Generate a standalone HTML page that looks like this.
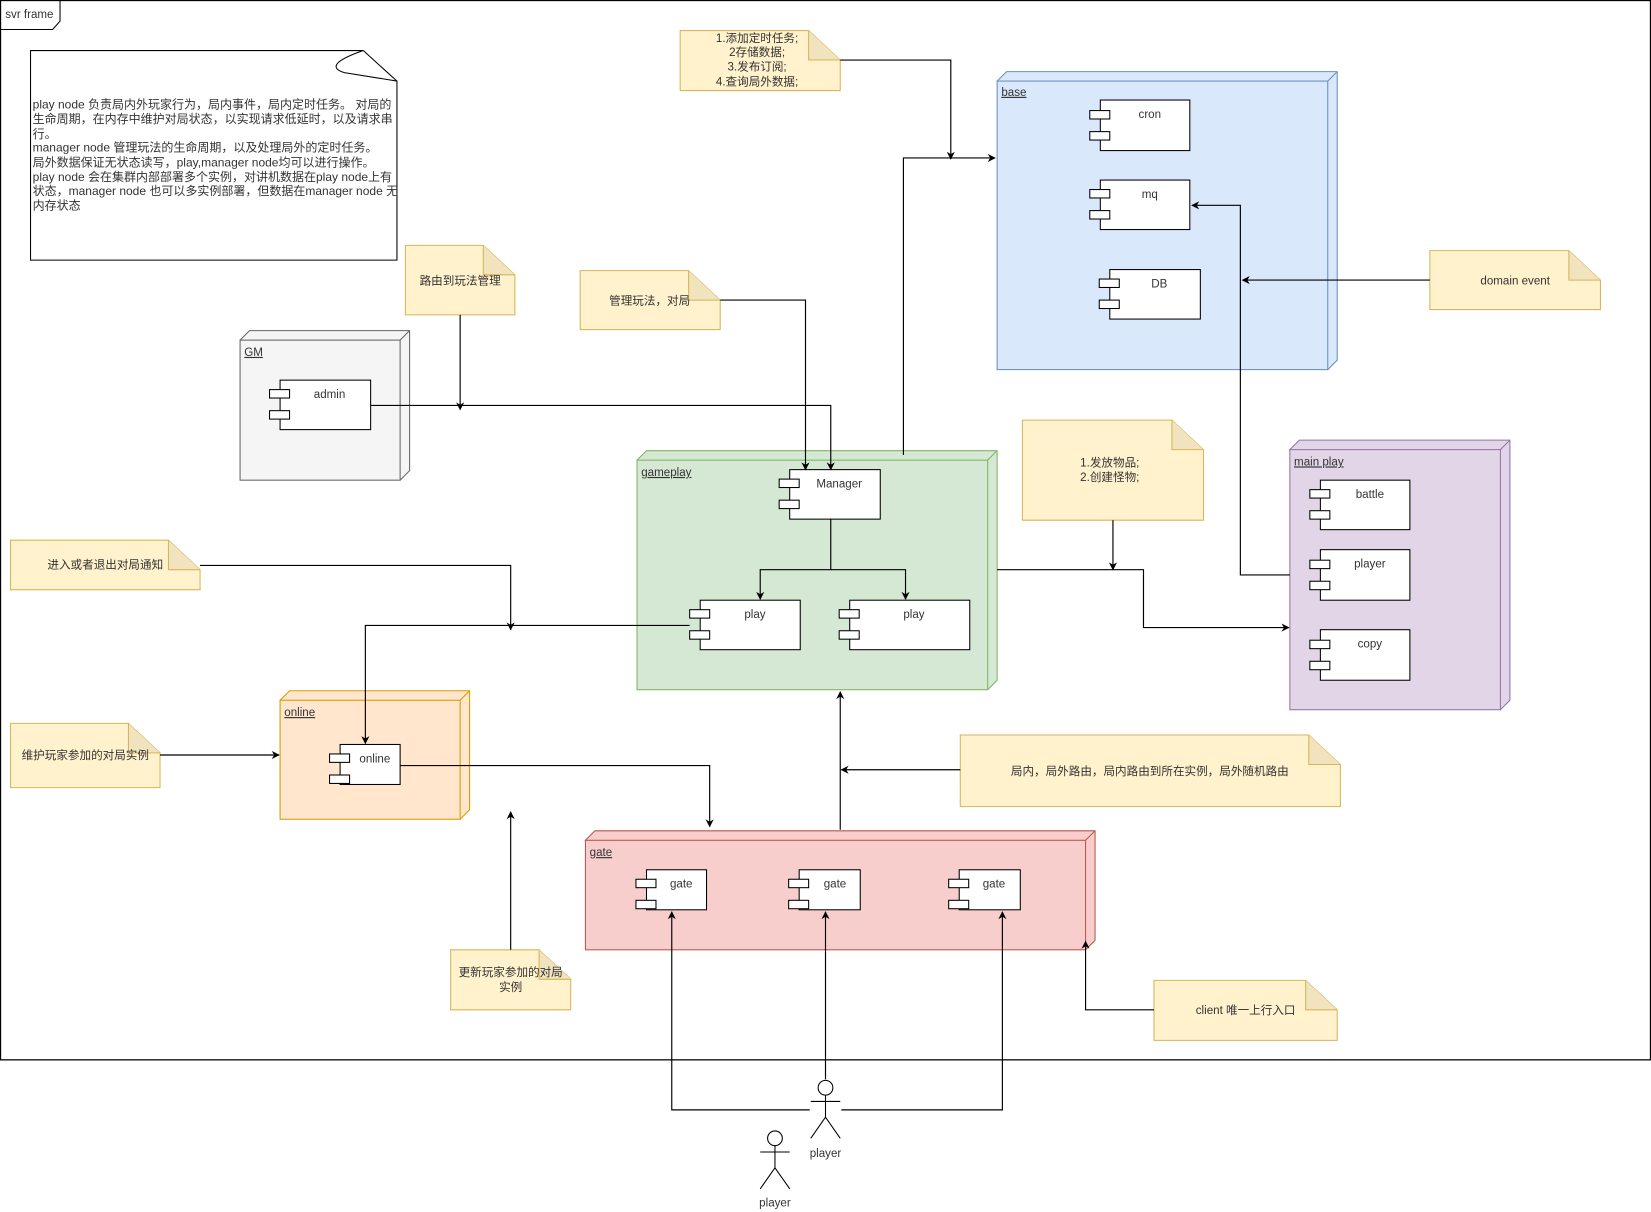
<!DOCTYPE html>
<html><head><meta charset="utf-8"><style>
html,body{margin:0;padding:0;background:#fff;}
svg{display:block;}
text{font-family:"Liberation Sans","Noto Sans CJK SC",sans-serif;font-size:11px;fill:#333;}
</style></head><body>
<svg width="1651" height="1212" viewBox="0 0 1568 1151" preserveAspectRatio="none" xmlns="http://www.w3.org/2000/svg">
<defs>
<marker id="a" viewBox="0 0 10 10" refX="9" refY="5" markerWidth="7" markerHeight="7" orient="auto"><path d="M0,0 L10,5 L0,10 L3,5 z" fill="#000"/></marker>
</defs>
<rect x="0.5" y="0.5" width="1567" height="1006" fill="#fff" stroke="#000" stroke-width="1.2"/>
<path d="M0.5,28 L50,28 L57,20 L57,0.5" fill="none" stroke="#000"/>
<text x="5" y="17">svr frame</text>

<path d="M29,48 L345,48 Q305,62 327,69 L377,77 L377,247 L29,247 Z" fill="#fff" stroke="#000"/>
<path d="M345,48 L377,77" stroke="#000"/>
<g>
<text x="31" y="103" style="font-size:11.4px">play node 负责局内外玩家行为，局内事件，局内定时任务。 对局的</text>
<text x="31" y="117" style="font-size:11.4px">生命周期，在内存中维护对局状态，以实现请求低延时，以及请求串</text>
<text x="31" y="131" style="font-size:11.4px">行。</text>
<text x="31" y="144" style="font-size:11.4px">manager node 管理玩法的生命周期，以及处理局外的定时任务。</text>
<text x="31" y="158" style="font-size:11.4px">局外数据保证无状态读写，play,manager node均可以进行操作。</text>
<text x="31" y="172" style="font-size:11.4px">play node 会在集群内部部署多个实例，对讲机数据在play node上有</text>
<text x="31" y="185" style="font-size:11.4px">状态，manager node 也可以多实例部署，但数据在manager node 无</text>
<text x="31" y="199" style="font-size:11.4px">内存状态</text>
</g>

<g>
<path d="M228,323 L237,314 L389,314 L389,447 L380,456 Z" fill="#f5f5f5" stroke="#666"/>
<rect x="228" y="323" width="152" height="133" fill="#f5f5f5" stroke="#666"/>
<path d="M380,323 L389,314" stroke="#666"/>
<text x="232" y="338" text-decoration="underline">GM</text>
<path d="M947,77 L956,68 L1270,68 L1270,342 L1261,351 Z" fill="#dae8fc" stroke="#6c8ebf"/>
<rect x="947" y="77" width="314" height="274" fill="#dae8fc" stroke="#6c8ebf"/>
<path d="M1261,77 L1270,68" stroke="#6c8ebf"/>
<text x="951" y="91" text-decoration="underline">base</text>
<path d="M605,437 L614,428 L947,428 L947,646 L938,655 Z" fill="#d5e8d4" stroke="#82b366"/>
<rect x="605" y="437" width="333" height="218" fill="#d5e8d4" stroke="#82b366"/>
<path d="M938,437 L947,428" stroke="#82b366"/>
<text x="609" y="452" text-decoration="underline">gameplay</text>
<path d="M1225,427 L1234,418 L1434,418 L1434,665 L1425,674 Z" fill="#e1d5e7" stroke="#9673a6"/>
<rect x="1225" y="427" width="200" height="247" fill="#e1d5e7" stroke="#9673a6"/>
<path d="M1425,427 L1434,418" stroke="#9673a6"/>
<text x="1229" y="442" text-decoration="underline">main play</text>
<path d="M266,665 L275,656 L446,656 L446,769 L437,778 Z" fill="#ffe6cc" stroke="#d79b00"/>
<rect x="266" y="665" width="171" height="113" fill="#ffe6cc" stroke="#d79b00"/>
<path d="M437,665 L446,656" stroke="#d79b00"/>
<text x="270" y="680" text-decoration="underline">online</text>
<path d="M556,798 L565,789 L1040,789 L1040,893 L1031,902 Z" fill="#f8cecc" stroke="#b85450"/>
<rect x="556" y="798" width="475" height="104" fill="#f8cecc" stroke="#b85450"/>
<path d="M1031,798 L1040,789" stroke="#b85450"/>
<text x="560" y="813" text-decoration="underline">gate</text>
</g>

<g fill="#fff" stroke="#000">
<rect x="266" y="361" width="86" height="47"/><rect x="256" y="370" width="19" height="8"/><rect x="256" y="390" width="19" height="8"/>
<rect x="1045" y="95" width="85" height="48"/><rect x="1035" y="105" width="19" height="8"/><rect x="1035" y="125" width="19" height="8"/>
<rect x="1045" y="171" width="85" height="47"/><rect x="1035" y="180" width="19" height="8"/><rect x="1035" y="200" width="19" height="8"/>
<rect x="1054" y="256" width="86" height="47"/><rect x="1044" y="265" width="19" height="8"/><rect x="1044" y="285" width="19" height="8"/>
<rect x="750" y="446" width="86" height="47"/><rect x="740" y="455" width="19" height="8"/><rect x="740" y="475" width="19" height="8"/>
<rect x="665" y="570" width="95" height="47"/><rect x="655" y="579" width="19" height="8"/><rect x="655" y="599" width="19" height="8"/>
<rect x="807" y="570" width="114" height="47"/><rect x="797" y="579" width="19" height="8"/><rect x="797" y="599" width="19" height="8"/>
<rect x="1254" y="456" width="85" height="47"/><rect x="1244" y="465" width="19" height="8"/><rect x="1244" y="485" width="19" height="8"/>
<rect x="1254" y="522" width="85" height="48"/><rect x="1244" y="532" width="19" height="8"/><rect x="1244" y="552" width="19" height="8"/>
<rect x="1254" y="598" width="85" height="48"/><rect x="1244" y="608" width="19" height="8"/><rect x="1244" y="628" width="19" height="8"/>
<rect x="323" y="707" width="57" height="38"/><rect x="313" y="716" width="19" height="8"/><rect x="313" y="736" width="19" height="8"/>
<rect x="614" y="826" width="57" height="38"/><rect x="604" y="835" width="19" height="8"/><rect x="604" y="855" width="19" height="8"/>
<rect x="759" y="826" width="58" height="38"/><rect x="749" y="835" width="19" height="8"/><rect x="749" y="855" width="19" height="8"/>
<rect x="911" y="826" width="58" height="38"/><rect x="901" y="835" width="19" height="8"/><rect x="901" y="855" width="19" height="8"/>
</g>
<g text-anchor="middle">
<text x="313" y="378">admin</text>
<text x="1092" y="112">cron</text>
<text x="1092" y="188">mq</text>
<text x="1101" y="273">DB</text>
<text x="797" y="463">Manager</text>
<text x="717" y="587">play</text>
<text x="868" y="587">play</text>
<text x="1301" y="473">battle</text>
<text x="1301" y="539">player</text>
<text x="1301" y="615">copy</text>
<text x="356" y="724">online</text>
<text x="647" y="843">gate</text>
<text x="793" y="843">gate</text>
<text x="944" y="843">gate</text>
</g>

<g fill="#fff2cc" stroke="#d6b656">
<path d="M646,29 L768,29 L798,57 L798,86 L646,86 Z"/><path d="M768,29 L768,57 L798,57" fill="#f0e3bd"/>
<path d="M385,233 L459,233 L489,261 L489,299 L385,299 Z"/><path d="M459,233 L459,261 L489,261" fill="#f0e3bd"/>
<path d="M551,257 L654,257 L684,285 L684,313 L551,313 Z"/><path d="M654,257 L654,285 L684,285" fill="#f0e3bd"/>
<path d="M1358,238 L1490,238 L1520,266 L1520,294 L1358,294 Z"/><path d="M1490,238 L1490,266 L1520,266" fill="#f0e3bd"/>
<path d="M971,399 L1113,399 L1143,427 L1143,494 L971,494 Z"/><path d="M1113,399 L1113,427 L1143,427" fill="#f0e3bd"/>
<path d="M10,513 L160,513 L190,541 L190,560 L10,560 Z"/><path d="M160,513 L160,541 L190,541" fill="#f0e3bd"/>
<path d="M10,687 L122,687 L152,715 L152,748 L10,748 Z"/><path d="M122,687 L122,715 L152,715" fill="#f0e3bd"/>
<path d="M912,698 L1243,698 L1273,726 L1273,766 L912,766 Z"/><path d="M1243,698 L1243,726 L1273,726" fill="#f0e3bd"/>
<path d="M428,902 L512,902 L542,930 L542,959 L428,959 Z"/><path d="M512,902 L512,930 L542,930" fill="#f0e3bd"/>
<path d="M1096,931 L1240,931 L1270,959 L1270,988 L1096,988 Z"/><path d="M1240,931 L1240,959 L1270,959" fill="#f0e3bd"/>
</g>
<g text-anchor="middle">
<text x="719" y="40">1.添加定时任务;</text>
<text x="719" y="53">2存储数据;</text>
<text x="719" y="67">3.发布订阅;</text>
<text x="719" y="81">4.查询局外数据;</text>
<text x="437" y="270">路由到玩法管理</text>
<text x="617" y="289">管理玩法，对局</text>
<text x="1439" y="270">domain event</text>
<text x="1054" y="443">1.发放物品;</text>
<text x="1054" y="457">2.创建怪物;</text>
<text x="100" y="540">进入或者退出对局通知</text>
<text x="81" y="721">维护玩家参加的对局实例</text>
<text x="1092" y="736">局内，局外路由，局内路由到所在实例，局外随机路由</text>
<text x="485" y="927">更新玩家参加的对局</text>
<text x="485" y="941">实例</text>
<text x="1183" y="963">client  唯一上行入口</text>
</g>

<g fill="none" stroke="#000" stroke-width="1.1">
<path d="M798,57 L903,57 L903,151" marker-end="url(#a)"/>
<path d="M858,432 L858,150 L945,150" marker-end="url(#a)"/>
<path d="M1358,266 L1180,266" marker-end="url(#a)"/>
<path d="M1225,546 L1178,546 L1178,195 L1132,195" marker-end="url(#a)"/>
<path d="M352,385 L789,385 L789,446" marker-end="url(#a)"/>
<path d="M437,299 L437,389" marker-end="url(#a)"/>
<path d="M684,285 L765,285 L765,446" marker-end="url(#a)"/>
<path d="M789,493 L789,541 L722,541 L722,569" marker-end="url(#a)"/>
<path d="M789,541 L860,541 L860,569" marker-end="url(#a)"/>
<path d="M947,541 L1086,541 L1086,596 L1224,596" marker-end="url(#a)"/>
<path d="M1057,494 L1057,541" marker-end="url(#a)"/>
<path d="M190,537 L485,537 L485,598" marker-end="url(#a)"/>
<path d="M655,594 L347,594 L347,706" marker-end="url(#a)"/>
<path d="M152,717 L265,717" marker-end="url(#a)"/>
<path d="M380,727 L674,727 L674,785" marker-end="url(#a)"/>
<path d="M798,788 L798,657" marker-end="url(#a)"/>
<path d="M912,731 L799,731" marker-end="url(#a)"/>
<path d="M485,902 L485,771" marker-end="url(#a)"/>
<path d="M1096,959 L1031,959 L1031,894" marker-end="url(#a)"/>
<path d="M769,1054 L638,1054 L638,866" marker-end="url(#a)"/>
<path d="M784,1025 L784,866" marker-end="url(#a)"/>
<path d="M799,1054 L952,1054 L952,866" marker-end="url(#a)"/>
</g>

<g fill="#fff" stroke="#000">
<circle cx="784" cy="1033" r="7"/>
<path d="M784,1040 L784,1061 M770,1046 L798,1046 M784,1061 L770,1081 M784,1061 L798,1081" fill="none"/>
<circle cx="736" cy="1081" r="7"/>
<path d="M736,1088 L736,1109 M722,1094 L750,1094 M736,1109 L722,1129 M736,1109 L750,1129" fill="none"/>
</g>
<text x="784" y="1099" text-anchor="middle">player</text>
<text x="736" y="1146" text-anchor="middle">player</text>
</svg>
</body></html>
